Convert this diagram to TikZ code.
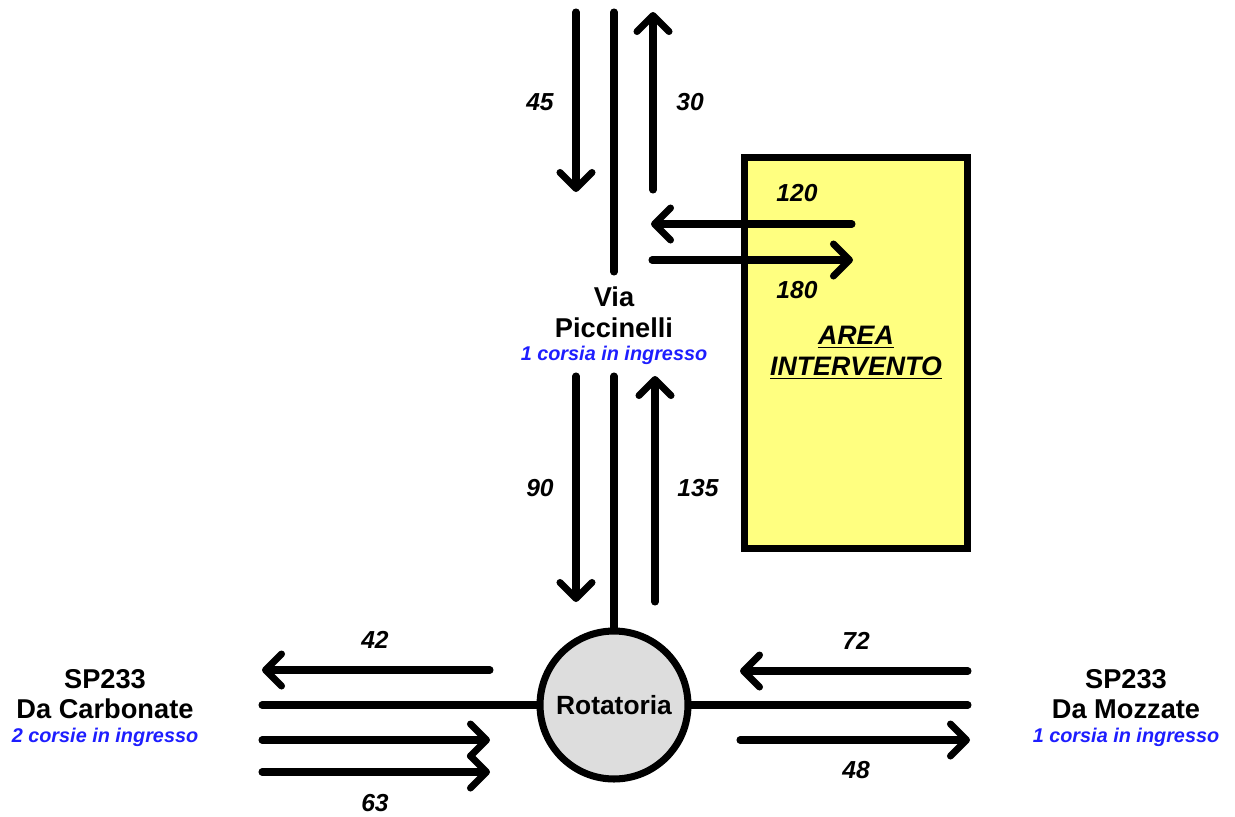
\documentclass[tikz,border=0pt]{standalone}
\usepackage{fontspec}
\setmainfont{Liberation Sans}
\usetikzlibrary{arrows.meta, positioning}
\definecolor{areaYellow}{HTML}{FFFF80}
\definecolor{roundGray}{HTML}{DDDDDD}
\definecolor{laneBlue}{HTML}{1E1EFF}
\tikzset{
    flow_arrow/.style={
        -{Straight Barb[length=0.32cm, width=0.64cm, round]},
        line width=4pt, line cap=round, draw=black
    },
    road_line/.style={
        line width=4pt, line cap=round, draw=black
    },
    count_lbl/.style={
        font=\fontsize{14}{16}\selectfont\bfseries\itshape, inner sep=1pt
    },
    road_name/.style={
        font=\fontsize{15.5}{17.5}\selectfont\bfseries, align=center, inner sep=1pt
    },
    lane_note/.style={
        font=\fontsize{11.3}{13}\selectfont\bfseries\itshape, text=laneBlue, inner sep=1pt
    }
}

\begin{document}
\begin{tikzpicture}[x=0.02cm, y=-0.02cm]
    \useasboundingbox (0,0) rectangle (1235,816);

    % Area intervento and roundabout
    \node[rectangle, draw=black, line width=4pt, fill=areaYellow,
          minimum width=4.48cm, minimum height=7.84cm, align=center,
          font=\fontsize{15.2}{17.5}\selectfont\bfseries\itshape] (area) at (856,353)
          {\underline{AREA}\\\underline{INTERVENTO}};
    \node[circle, draw=black, line width=4pt, fill=roundGray, minimum size=2.96cm,
          font=\fontsize{15}{17}\selectfont\bfseries] (rot) at (614,705) {Rotatoria};

    % Road names
    \node[road_name] (via) at (614,312) {Via\\Piccinelli};
    \node[lane_note] (viaNote) at (614,355) {1 corsia in ingresso};
    \node[road_name] (carb) at (105,694) {SP233\\Da Carbonate};
    \node[lane_note] (carbNote) at (105,737) {2 corsie in ingresso};
    \node[road_name] (mozz) at (1126,694) {SP233\\Da Mozzate};
    \node[lane_note] (mozzNote) at (1126,737) {1 corsia in ingresso};

    % Flow counts
    \node[count_lbl] (n45) at (540,102) {45};
    \node[count_lbl] (n30) at (690,102) {30};
    \node[count_lbl] (n120) at (797,193) {120};
    \node[count_lbl] (n180) at (797,290) {180};
    \node[count_lbl] (n90) at (540,488) {90};
    \node[count_lbl] (n135) at (698,488) {135};
    \node[count_lbl] (n42) at (375,640) {42};
    \node[count_lbl] (n63) at (375,803) {63};
    \node[count_lbl] (n72) at (856,641) {72};
    \node[count_lbl] (n48) at (856,770) {48};

    % Lane end points
    \coordinate (nDownA) at (576,12);   \coordinate (nDownB) at (576,192);
    \coordinate (nMidA) at (614,12);    \coordinate (nMidB) at (614,272);
    \coordinate (nUpA) at (653,190);    \coordinate (nUpB) at (653,12);
    \coordinate (inA) at (852,224);     \coordinate (inB) at (651,224);
    \coordinate (outA) at (652,260);    \coordinate (outB) at (853,260);
    \coordinate (sDownA) at (576,376);  \coordinate (sDownB) at (576,602);
    \coordinate (sMidA) at (614,376);
    \coordinate (sUpA) at (655,602);    \coordinate (sUpB) at (655,376);
    \coordinate (wOutA) at (490,670);   \coordinate (wOutB) at (262,670);
    \coordinate (wMidA) at (262,705);
    \coordinate (wInA) at (262,740);    \coordinate (wInB) at (490,740);
    \coordinate (wIn2A) at (262,772);   \coordinate (wIn2B) at (490,772);
    \coordinate (eInA) at (968,671);    \coordinate (eInB) at (740,671);
    \coordinate (eMidB) at (968,705);
    \coordinate (eOutA) at (740,740);   \coordinate (eOutB) at (970,740);

    % Via Piccinelli, north part
    \draw[flow_arrow] (nDownA) -- (nDownB);
    \draw[road_line] (nMidA) -- (nMidB);
    \draw[flow_arrow] (nUpA) -- (nUpB);
    \draw[flow_arrow] (inA) -- (inB);
    \draw[flow_arrow] (outA) -- (outB);

    % Via Piccinelli, south part
    \draw[flow_arrow] (sDownA) -- (sDownB);
    \draw[road_line] (sMidA) -- (rot.north);
    \draw[flow_arrow] (sUpA) -- (sUpB);

    % SP233 west branch
    \draw[flow_arrow] (wOutA) -- (wOutB);
    \draw[road_line] (wMidA) -- (rot.west);
    \draw[flow_arrow] (wInA) -- (wInB);
    \draw[flow_arrow] (wIn2A) -- (wIn2B);

    % SP233 east branch
    \draw[flow_arrow] (eInA) -- (eInB);
    \draw[road_line] (rot.east) -- (eMidB);
    \draw[flow_arrow] (eOutA) -- (eOutB);
\end{tikzpicture}
\end{document}
